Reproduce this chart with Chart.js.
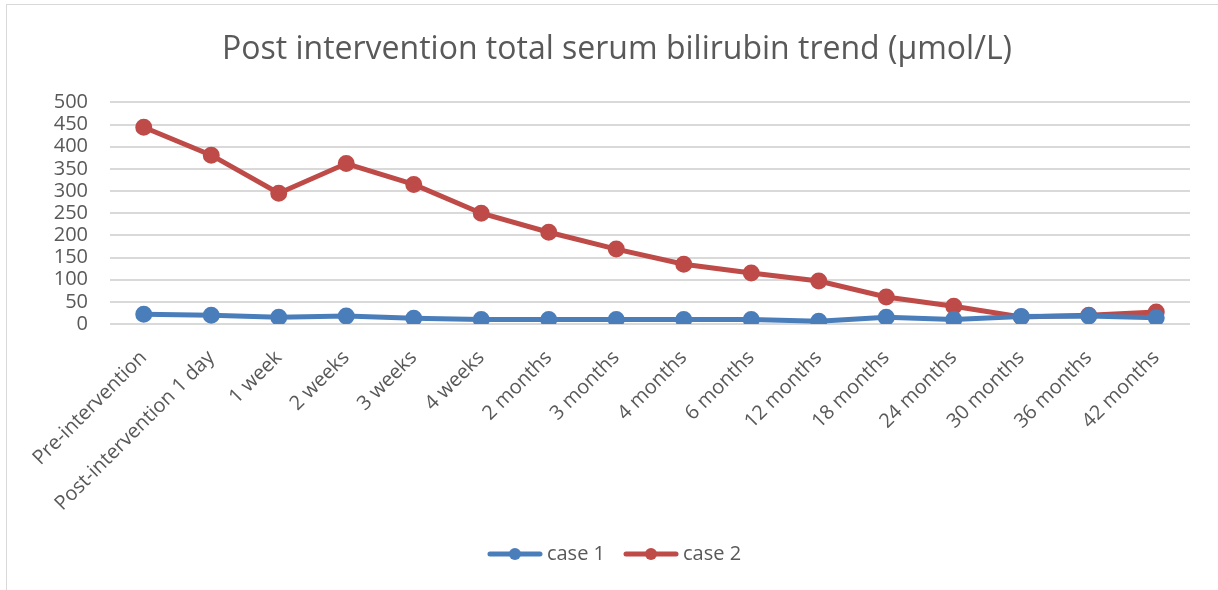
<!DOCTYPE html>
<html>
<head>
<meta charset="utf-8">
<script src="https://cdn.jsdelivr.net/npm/chart.js@4/dist/chart.umd.min.js"></script>
<style>
  html, body { margin: 0; padding: 0; background: #fff; }
  #frame { position: absolute; left: 6px; top: 4px; width: 1220px; height: 600px; border: 1px solid #d9d9d9; }
  #wrap { position: absolute; left: 0; top: 0; width: 1218px; height: 590px; }
</style>
</head>
<body>
<div id="frame"></div>
<div id="wrap"><canvas id="chart"></canvas></div>
<script>
const timepoints = ['Pre-intervention', 'Post-intervention 1 day', '1 week', '2 weeks', '3 weeks', '4 weeks',
  '2 months', '3 months', '4 months', '6 months', '12 months', '18 months', '24 months', '30 months', '36 months', '42 months']
const case1 = [22, 20, 15, 18, 13, 10, 10, 10, 10, 10, 6, 15, 10, 17, 18, 14]
const case2 = [444, 381, 295, 362, 315, 250, 207, 169, 135, 115, 97, 61, 40, 16, 20, 27]
const yTicks = [0, 50, 100, 150, 200, 250, 300, 350, 400, 450, 500]

const BLUE = '#4a7ebb'
const RED = '#be4b48'
const TEXT = '#595959'
const FONT = '"Open Sans", Lato, sans-serif'

// legend glyph: a short line with a marker in the middle
function legendGlyph (color) {
  const c = document.createElement('canvas')
  c.width = 56
  c.height = 14
  const g = c.getContext('2d')
  g.strokeStyle = color
  g.lineWidth = 5
  g.lineCap = 'round'
  g.beginPath()
  g.moveTo(3, 7)
  g.lineTo(53, 7)
  g.stroke()
  g.fillStyle = color
  g.beginPath()
  g.arc(28, 7, 6, 0, Math.PI * 2)
  g.fill()
  return c
}

const series = (label, values, color) => ({
  label: label,
  data: values,
  borderColor: color,
  backgroundColor: color,
  borderWidth: 5,
  pointRadius: 6,
  pointHoverRadius: 6,
  pointBackgroundColor: color,
  pointBorderColor: color,
  tension: 0
})

new Chart(document.getElementById('chart'), {
  type: 'line',
  data: {
    labels: timepoints,
    datasets: [series('case 1', case1, BLUE), series('case 2', case2, RED)]
  },
  options: {
    responsive: true,
    maintainAspectRatio: false,
    animation: false,
    layout: { padding: { left: 44, right: 28, top: 0, bottom: 16 } },
    scales: {
      x: {
        offset: true,
        grid: { display: false, drawTicks: false },
        border: { display: false },
        ticks: {
          color: TEXT,
          font: { family: FONT, size: 20 },
          minRotation: 45,
          maxRotation: 45,
          padding: 22,
          autoSkip: false
        },
        afterFit: (s) => { s.height = 196 }
      },
      y: {
        min: 0,
        max: 500,
        afterBuildTicks: (s) => { s.ticks = yTicks.map(v => ({ value: v })) },
        grid: { color: '#d9d9d9', lineWidth: 2, drawTicks: false },
        border: { display: false },
        ticks: {
          color: TEXT,
          font: { family: FONT, size: 20 },
          padding: 22,
          autoSkip: false
        },
        afterFit: (s) => { s.width = 66 }
      }
    },
    plugins: {
      title: {
        display: true,
        text: 'Post intervention total serum bilirubin trend (µmol/L)',
        color: TEXT,
        font: { family: FONT, size: 32, weight: 'normal' },
        padding: { top: 31, bottom: 33 }
      },
      legend: {
        position: 'bottom',
        labels: {
          color: TEXT,
          font: { family: FONT, size: 20 },
          usePointStyle: true,
          pointStyleWidth: 44,
          padding: 24,
          generateLabels: (chart) => chart.data.datasets.map((d, i) => ({
            text: d.label,
            fontColor: TEXT,
            pointStyle: legendGlyph(d.borderColor),
            lineWidth: 0,
            strokeStyle: 'transparent',
            fillStyle: d.borderColor,
            datasetIndex: i,
            hidden: false
          }))
        }
      },
      tooltip: { enabled: false }
    }
  }
})
</script>
</body>
</html>
